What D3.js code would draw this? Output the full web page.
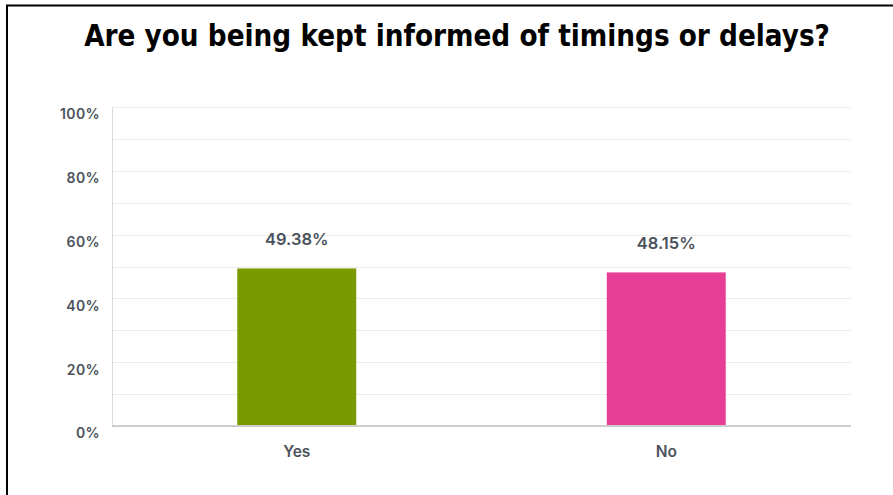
<!DOCTYPE html>
<html>
<head>
<meta charset="utf-8">
<script src="https://cdn.jsdelivr.net/npm/d3@7"></script>
<style>
  html, body { margin: 0; padding: 0; background: #fff; }
  svg { display: block; }
</style>
</head>
<body>
<svg id="chart" width="893" height="495"></svg>
<script>
// answers and their shares (%)
var categories = ["Yes", "No"];
var percents = [49.38, 48.15];
var barColors = ["#7a9a01", "#e83f96"];
var yTicks = [0, 20, 40, 60, 80, 100];
var gridLines = [10, 20, 30, 40, 50, 60, 70, 80, 90, 100];
var titleText = "Are you being kept informed of timings or delays?";

var svg = d3.select("#chart"),
    width = +svg.attr("width"),
    height = +svg.attr("height");

// frame around the whole slide
svg.append("rect")
    .attr("x", 7)
    .attr("y", 5.5)
    .attr("width", 920)
    .attr("height", 520)
    .attr("fill", "none")
    .attr("stroke", "#000")
    .attr("stroke-width", 2);

// title, sized to fill its line
var title = svg.append("text")
    .attr("x", 457)
    .attr("y", 46)
    .attr("text-anchor", "middle")
    .attr("font-family", "'DejaVu Sans Condensed', 'DejaVu Sans', sans-serif")
    .attr("font-weight", "bold")
    .attr("font-size", 26)
    .attr("fill", "#000")
    .text(titleText);
var tw = title.node().getComputedTextLength();
title.attr("font-size", 26 * 746 / tw);

var plot = {left: 112, right: 851, top: 107, bottom: 426};

var x = d3.scaleBand()
    .domain(categories)
    .range([plot.left, plot.right])
    .paddingInner(0.678)
    .paddingOuter(0.339);

var y = d3.scaleLinear()
    .domain([0, 100])
    .range([plot.bottom, plot.top]);

var g = svg.append("g");

// horizontal gridlines
g.selectAll(".grid")
    .data(gridLines)
    .enter()
    .append("line")
    .attr("class", "grid")
    .attr("x1", plot.left)
    .attr("x2", plot.right)
    .attr("y1", function(d) { return Math.round(y(d)) + 0.5; })
    .attr("y2", function(d) { return Math.round(y(d)) + 0.5; })
    .attr("stroke", "#ebebeb")
    .attr("stroke-width", 1);

// left axis line
g.append("line")
    .attr("x1", plot.left + 0.5)
    .attr("x2", plot.left + 0.5)
    .attr("y1", plot.top)
    .attr("y2", plot.bottom)
    .attr("stroke", "#dcdcdc");

// y axis labels
var yAxis = d3.axisLeft(y)
    .tickValues(yTicks)
    .tickSize(0)
    .tickPadding(12)
    .tickFormat(function(d) { return d + "%"; });

var ya = svg.append("g")
    .attr("transform", "translate(" + plot.left + ",0)")
    .call(yAxis);
ya.select(".domain").remove();
ya.selectAll("text")
    .attr("dy", "0.85em")
    .attr("font-family", "Inter, 'Noto Sans', sans-serif")
    .attr("font-weight", 600)
    .attr("font-size", 14)
    .attr("letter-spacing", 0.4)
    .attr("fill", "#4b525c");

// bars
g.selectAll(".bar")
    .data(percents)
    .enter()
    .append("rect")
    .attr("class", "bar")
    .attr("x", function(d, i) { return x(categories[i]); })
    .attr("y", function(d) { return y(d); })
    .attr("width", x.bandwidth())
    .attr("height", function(d) { return y(0) - y(d); })
    .attr("fill", function(d, i) { return barColors[i]; });

// baseline
g.append("line")
    .attr("x1", plot.left)
    .attr("x2", plot.right)
    .attr("y1", plot.bottom)
    .attr("y2", plot.bottom)
    .attr("stroke", "#cdcdcd")
    .attr("stroke-width", 2);

// value labels over bars
g.selectAll(".val")
    .data(percents)
    .enter()
    .append("text")
    .attr("class", "val")
    .attr("x", function(d, i) { return x(categories[i]) + x.bandwidth() / 2; })
    .attr("y", function(d) { return y(d) - 23; })
    .attr("text-anchor", "middle")
    .attr("font-family", "Inter, 'Noto Sans', sans-serif")
    .attr("font-weight", 600)
    .attr("font-size", 16.5)
    .attr("fill", "#4b525c")
    .text(function(d) { return d.toFixed(2) + "%"; });

// category labels
var xAxis = d3.axisBottom(x).tickSize(0).tickPadding(20);
var xa = svg.append("g")
    .attr("transform", "translate(0," + plot.bottom + ")")
    .call(xAxis);
xa.select(".domain").remove();
xa.selectAll("text")
    .attr("font-family", "Inter, 'Noto Sans', sans-serif")
    .attr("font-weight", 600)
    .attr("font-size", 15.5)
    .attr("fill", "#4b525c");
</script>
</body>
</html>
